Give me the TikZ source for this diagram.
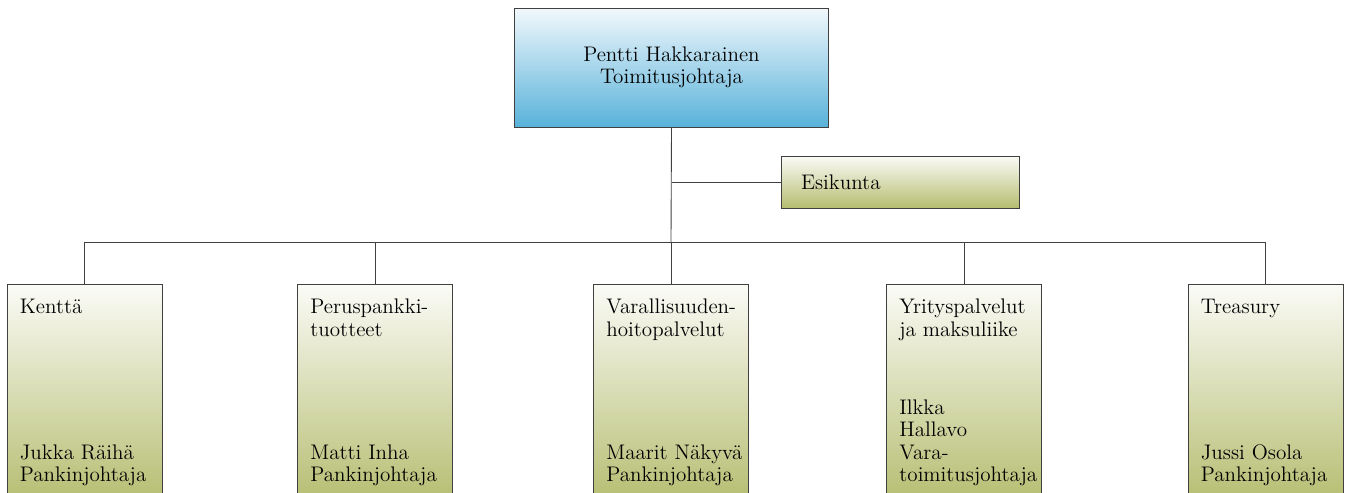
\documentclass[tikz,border=0pt]{standalone}
\usetikzlibrary{positioning}
\definecolor{bossblue}{RGB}{88,178,218}
\definecolor{bosstop}{RGB}{242,248,252}
\definecolor{olive}{RGB}{181,189,112}
\definecolor{olivetop}{RGB}{251,251,247}
\definecolor{edgegray}{RGB}{64,64,64}
\tikzset{
  orgbox/.style={draw=edgegray,line width=0.55pt,inner sep=0pt,top color=olivetop,bottom color=olive},
  orgtext/.style={inner sep=0pt,align=left,font=\fontsize{12}{12.8}\selectfont},
  orgline/.style={draw=edgegray,line width=0.5pt}
}

\begin{document}
\begin{tikzpicture}[x=0.02cm,y=-0.02cm]
\useasboundingbox (0,0) rectangle (1347,493);
\clip (0,0) rectangle (1347,493);
\node[orgbox,top color=bosstop,bottom color=bossblue,minimum width=6.3cm,minimum height=2.38cm,
  align=center,font=\fontsize{12}{12.8}\selectfont] (boss) at (671.5,67.5) {Pentti Hakkarainen\\Toimitusjohtaja};
\node[orgbox,text width=3.98cm,inner xsep=0.4cm,minimum height=1.04cm,align=left,
  font=\fontsize{12}{12.8}\selectfont] (esikunta) at (900.5,182) {Esikunta};
\coordinate (bus) at (671,242);
\draw[orgline] (boss.south) -- (bus);
\draw[orgline] (boss.south |- esikunta.west) -- (esikunta.west);
\foreach \x/\name/\top/\low in {
    84.5/kentta/{Kenttä}/{Jukka Räihä\\Pankinjohtaja},
    375/perus/{Peruspankki-\\tuotteet}/{Matti Inha\\Pankinjohtaja},
    671/varall/{Varallisuuden-\\hoitopalvelut}/{Maarit Näkyvä\\Pankinjohtaja},
    964/yritys/{Yrityspalvelut\\ja maksuliike}/{Ilkka\\Hallavo\\Vara-\\toimitusjohtaja},
    1265.5/treasury/{Treasury}/{Jussi Osola\\Pankinjohtaja}}{
  \node[orgbox,minimum width=3.1cm,minimum height=4.4cm] (\name) at (\x,394) {};
  \node[orgtext,anchor=north west] (\name-top) at ([shift={(13,15)}]\name.north west) {\top};
  \node[orgtext,anchor=south west] (\name-low) at ([shift={(13,203)}]\name.north west) {\low};
  \draw[orgline] (bus -| \name.north) -- (\name.north);
}
\draw[orgline] (bus -| kentta.north) -- (bus -| treasury.north);
\end{tikzpicture}
\end{document}
